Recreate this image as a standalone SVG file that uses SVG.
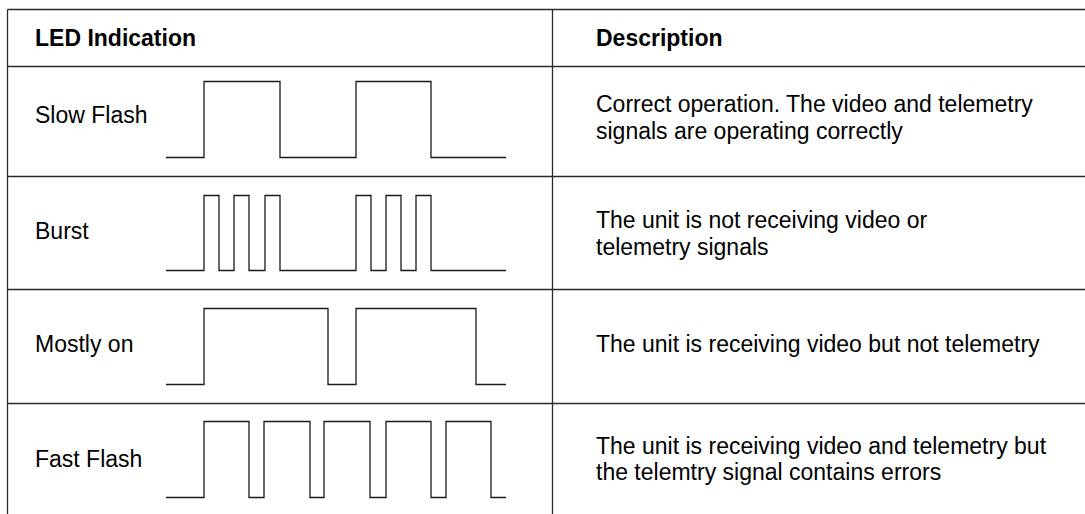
<svg xmlns="http://www.w3.org/2000/svg" width="1085" height="514" viewBox="0 0 1085 514">
  <style>
    .grid { stroke: #2a2a2a; stroke-width: 1.3; fill: none; }
    .wave { stroke: #1a1a1a; stroke-width: 1.3; fill: none; stroke-linejoin: miter; }
    .txt { font-family: "Liberation Sans", Arial, sans-serif; font-size: 23px; fill: #000; }
    .hdr { font-weight: bold; }
  </style>
  <rect width="1085" height="514" fill="#fff"/>

  <!-- table rules -->
  <g id="table" class="grid">
    <line x1="7.5" y1="9.5" x2="1085" y2="9.5"/>
    <line x1="7.5" y1="66.5" x2="1085" y2="66.5"/>
    <line x1="7.5" y1="176.5" x2="1085" y2="176.5"/>
    <line x1="7.5" y1="289.5" x2="1085" y2="289.5"/>
    <line x1="7.5" y1="403.5" x2="1085" y2="403.5"/>
    <line x1="7.5" y1="9.5" x2="7.5" y2="514"/>
    <line x1="552.5" y1="9.5" x2="552.5" y2="514"/>
  </g>

  <!-- header -->
  <g id="header">
    <text class="txt hdr" x="35" y="46">LED Indication</text>
    <text class="txt hdr" x="596" y="46">Description</text>
  </g>

  <!-- row 1: slow flash -->
  <g id="row-slow">
    <text class="txt" x="35" y="123">Slow Flash</text>
    <path class="wave" d="M166,157.5 H204 V81.5 H280 V157.5 H356 V81.5 H431 V157.5 H506"/>
    <text class="txt" x="596" y="112">Correct operation. The video and telemetry</text>
    <text class="txt" x="596" y="139">signals are operating correctly</text>
  </g>

  <!-- row 2: burst -->
  <g id="row-burst">
    <text class="txt" x="35" y="239">Burst</text>
    <path class="wave" d="M166,270.5 H204 V195.5 H219 V270.5 H234 V195.5 H249 V270.5 H265 V195.5 H280 V270.5 H356 V195.5 H371 V270.5 H386 V195.5 H401 V270.5 H416 V195.5 H431 V270.5 H506"/>
    <text class="txt" x="596" y="228">The unit is not receiving video or</text>
    <text class="txt" x="596" y="255">telemetry signals</text>
  </g>

  <!-- row 3: mostly on -->
  <g id="row-mostly-on">
    <text class="txt" x="35" y="352">Mostly on</text>
    <path class="wave" d="M166,384.5 H204 V308.5 H328 V384.5 H356 V308.5 H476 V384.5 H506"/>
    <text class="txt" x="596" y="352">The unit is receiving video but not telemetry</text>
  </g>

  <!-- row 4: fast flash -->
  <g id="row-fast">
    <text class="txt" x="35" y="467">Fast Flash</text>
    <path class="wave" d="M166,497.5 H204 V421.5 H249 V497.5 H264 V421.5 H310 V497.5 H324 V421.5 H370 V497.5 H386 V421.5 H431 V497.5 H446 V421.5 H491 V497.5 H506"/>
    <text class="txt" x="596" y="454">The unit is receiving video and telemetry but</text>
    <text class="txt" x="596" y="480">the telemtry signal contains errors</text>
  </g>
</svg>
